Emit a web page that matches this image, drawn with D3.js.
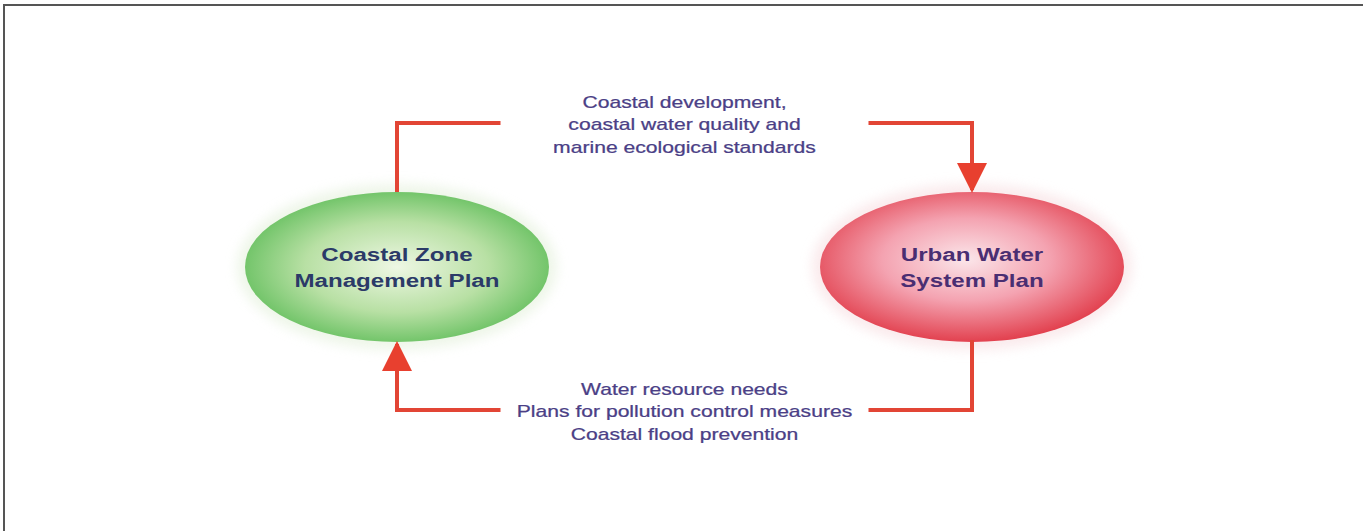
<!DOCTYPE html>
<html>
<head>
<meta charset="utf-8">
<script src="https://cdn.jsdelivr.net/npm/d3@7"></script>
<style>
  html, body { margin: 0; padding: 0; background: #fff; }
  #diagram svg { display: block; }
</style>
</head>
<body>
<div id="diagram"></div>
<script>
// the two plans in the cycle, left to right
const nodes = ["Coastal Zone Management Plan", "Urban Water System Plan"];
const nodeLines = [["Coastal Zone", "Management Plan"], ["Urban Water", "System Plan"]];

// what flows along each arrow
const topFlow = ["Coastal development,", "coastal water quality and", "marine ecological standards"];
const bottomFlow = ["Water resource needs", "Plans for pollution control measures", "Coastal flood prevention"];

const width = 1363, height = 531;

const svg = d3.select("#diagram")
  .append("svg")
    .attr("width", width)
    .attr("height", height);

const defs = svg.append("defs");

// radial fills for the ellipses
const greenGrad = defs.append("radialGradient").attr("id", "green").attr("cx", "50%").attr("cy", "50%").attr("r", "55%");
greenGrad.append("stop").attr("offset", "0%").attr("stop-color", "#eef7e4");
greenGrad.append("stop").attr("offset", "55%").attr("stop-color", "#b8e0a4");
greenGrad.append("stop").attr("offset", "100%").attr("stop-color", "#62be5c");

const redGrad = defs.append("radialGradient").attr("id", "red").attr("cx", "48%").attr("cy", "45%").attr("r", "55%");
redGrad.append("stop").attr("offset", "0%").attr("stop-color", "#fbe6ea");
redGrad.append("stop").attr("offset", "50%").attr("stop-color", "#f4a3b1");
redGrad.append("stop").attr("offset", "100%").attr("stop-color", "#e2414f");

// soft glow around ellipses
const glow = defs.append("filter").attr("id", "glow").attr("x", "-20%").attr("y", "-30%").attr("width", "140%").attr("height", "160%");
glow.append("feGaussianBlur").attr("stdDeviation", 6);

// arrowhead
defs.append("marker")
    .attr("id", "head")
    .attr("viewBox", "0 0 10 10")
    .attr("refX", 9).attr("refY", 5)
    .attr("markerWidth", 7.5).attr("markerHeight", 7.5)
    .attr("markerUnits", "strokeWidth")
    .attr("orient", "auto")
  .append("path")
    .attr("d", "M0,0 L10,5 L0,10 Z")
    .attr("fill", "#e8402f");

// frame, only top and left edges show
svg.append("path")
  .attr("d", `M4,${height} L4,5 L${width},5`)
  .attr("fill", "none")
  .attr("stroke", "#555")
  .attr("stroke-width", 2);

// horizontal placement of the plans, vertical placement of the rows
const x = d3.scalePoint().domain(nodes).range([397, 972]);
const y = d3.scalePoint().domain(["top", "node", "bottom"]).range([123, 410]);
const cy = 267, rx = 152, ry = 75;
const textMid = (x(nodes[0]) + x(nodes[1])) / 2;

// the source lettering is wide, so stretch text horizontally about its centre
const stretch = (cx, s) => `translate(${cx},0) scale(${s},1) translate(${-cx},0)`;

// faint halo
svg.selectAll("ellipse.halo")
  .data(nodes)
  .enter().append("ellipse")
    .attr("class", "halo")
    .attr("cx", d => x(d)).attr("cy", cy)
    .attr("rx", rx + 8).attr("ry", ry + 8)
    .attr("fill", (d, i) => i === 0 ? "#e3f0da" : "#f7dde0")
    .attr("opacity", 0.6)
    .attr("filter", "url(#glow)");

svg.selectAll("ellipse.node")
  .data(nodes)
  .enter().append("ellipse")
    .attr("class", "node")
    .attr("cx", d => x(d)).attr("cy", cy)
    .attr("rx", rx).attr("ry", ry)
    .attr("fill", (d, i) => i === 0 ? "url(#green)" : "url(#red)");

// node labels
nodes.forEach((n, i) => {
  svg.append("text")
    .attr("transform", stretch(x(n), 1.27))
    .attr("x", x(n))
    .attr("y", cy - 6)
    .attr("text-anchor", "middle")
    .style("font-family", "'Liberation Sans', Arial, sans-serif")
    .style("font-weight", "bold")
    .style("font-size", "19px")
    .attr("fill", i === 0 ? "#2b3a68" : "#4a2e72")
    .selectAll("tspan")
    .data(nodeLines[i])
    .enter().append("tspan")
      .attr("x", x(n))
      .attr("dy", (d, j) => j === 0 ? 0 : 26)
      .text(d => d);
});

const gap = 184; // half width of the text gap in the connector lines
const line = d3.line();
const arrowStyle = sel => sel
  .attr("fill", "none")
  .attr("stroke", "#e24535")
  .attr("stroke-width", 4);

// top: left plan -> right plan
svg.append("path")
  .attr("d", line([[x(nodes[0]), cy - ry], [x(nodes[0]), y("top")], [textMid - gap, y("top")]]))
  .call(arrowStyle);
svg.append("path")
  .attr("d", line([[textMid + gap, y("top")], [x(nodes[1]), y("top")], [x(nodes[1]), cy - ry - 2]]))
  .call(arrowStyle)
  .attr("marker-end", "url(#head)");

// bottom: right plan -> left plan
svg.append("path")
  .attr("d", line([[x(nodes[1]), cy + ry - 2], [x(nodes[1]), y("bottom")], [textMid + gap, y("bottom")]]))
  .call(arrowStyle);
svg.append("path")
  .attr("d", line([[textMid - gap, y("bottom")], [x(nodes[0]), y("bottom")], [x(nodes[0]), cy + ry + 2]]))
  .call(arrowStyle)
  .attr("marker-end", "url(#head)");

// flow labels
const flowText = (lines, y0) => svg.append("text")
  .attr("transform", stretch(textMid, 1.32))
  .attr("text-anchor", "middle")
  .style("font-family", "'Liberation Sans', Arial, sans-serif")
  .style("font-size", "16px")
  .attr("fill", "#4b3f86")
  .attr("stroke", "#4b3f86")
  .attr("stroke-width", 0.25)
  .selectAll("tspan")
  .data(lines)
  .enter().append("tspan")
    .attr("x", textMid)
    .attr("y", (d, j) => y0 + j * 22.5)
    .text(d => d);

flowText(topFlow, 108);
flowText(bottomFlow, 395);
</script>
</body>
</html>
